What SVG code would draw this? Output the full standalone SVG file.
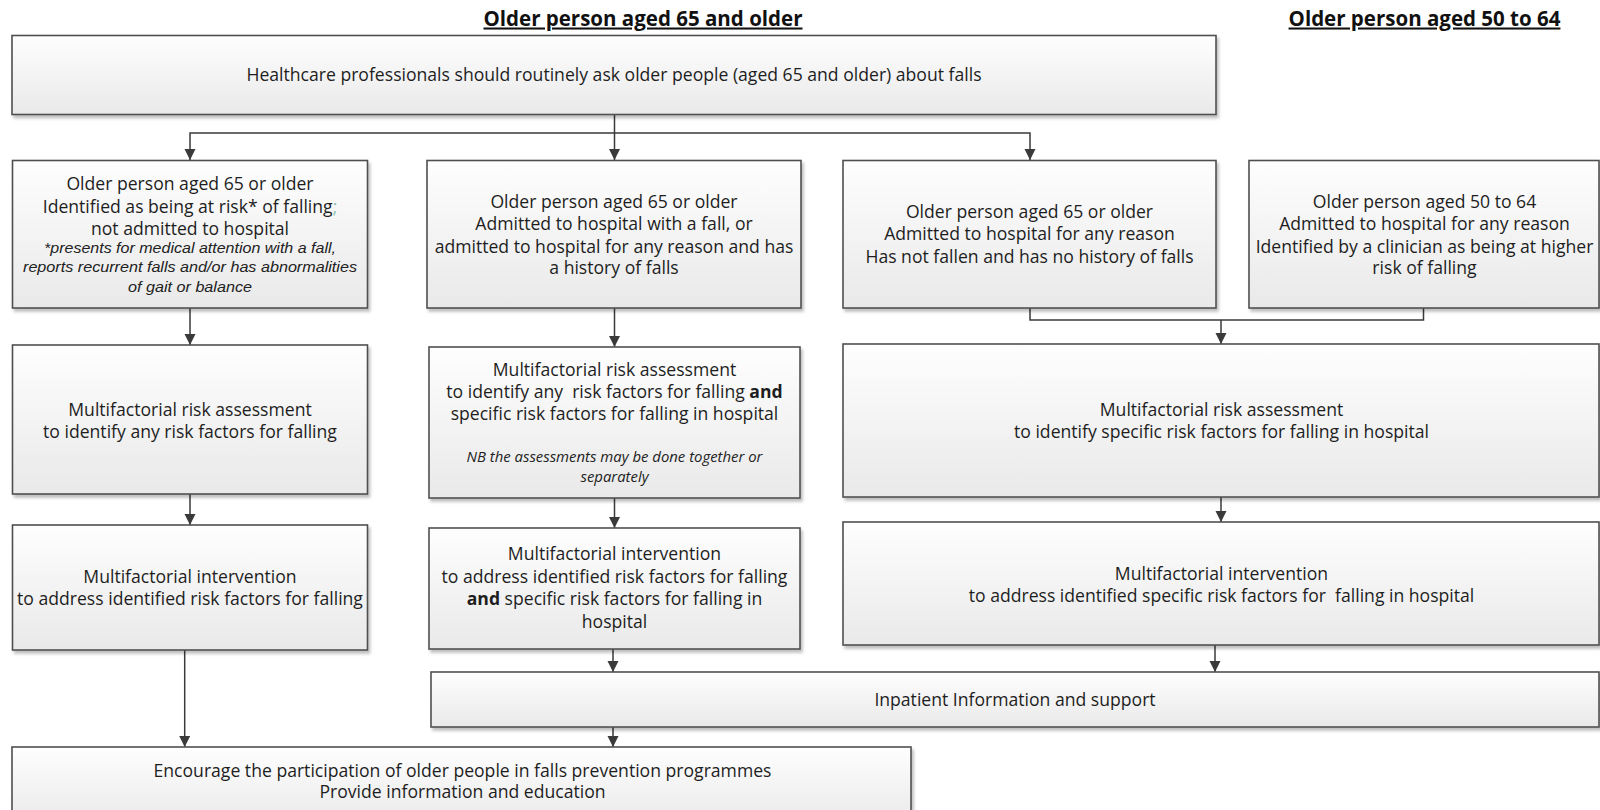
<svg xmlns="http://www.w3.org/2000/svg" width="1600" height="810" viewBox="0 0 1600 810">
<defs>
<linearGradient id="g" x1="0" y1="0" x2="0" y2="1">
<stop offset="0" stop-color="#fefefe"/>
<stop offset="1" stop-color="#e9e9e9"/>
</linearGradient>
<filter id="sh" x="-5%" y="-5%" width="110%" height="120%">
<feDropShadow dx="2" dy="3" stdDeviation="1.5" flood-color="#000" flood-opacity="0.25"/>
</filter>
<marker id="ah" markerUnits="userSpaceOnUse" markerWidth="12" markerHeight="12" refX="11" refY="6" orient="auto">
<path d="M0,0.5 L11,6 L0,11.5 z" fill="#3a3a3a"/>
</marker>
<style>
.box{fill:url(#g);stroke:#505050;stroke-width:1.6;filter:url(#sh)}
.t{font-family:"Open Sans","Liberation Sans",sans-serif;font-size:17.6px;fill:#1e1e1e;text-anchor:middle}
.h{font-family:"Open Sans","Liberation Sans",sans-serif;font-size:20.5px;font-weight:bold;fill:#111;text-anchor:middle;text-decoration:underline}
.n{font-family:"Liberation Sans",Arial,sans-serif;font-size:14px;font-style:italic;fill:#222;text-anchor:middle}
.nb{font-family:"Open Sans","Liberation Sans",sans-serif;font-size:14.5px;font-style:italic;fill:#222;text-anchor:middle}
.c{fill:none;stroke:#3a3a3a;stroke-width:1.5}
.a{marker-end:url(#ah)}
</style>
</defs>
<rect width="1600" height="810" fill="#fff"/>

<text class="h" x="643" y="25.5">Older person aged 65 and older</text>
<text class="h" x="1424.5" y="25.5">Older person aged 50 to 64</text>

<g id="connectors">
<path class="c a" d="M614.5,115 V160"/>
<path class="c a" d="M614.5,133 H190 V160"/>
<path class="c a" d="M614.5,133 H1030 V160"/>
<path class="c a" d="M190,308 V345"/>
<path class="c a" d="M614.5,308 V347"/>
<path class="c" d="M1030,308 V320 H1423.5 V308"/>
<path class="c a" d="M1221,320 V344"/>
<path class="c a" d="M190,494 V525"/>
<path class="c a" d="M614.5,498 V528"/>
<path class="c a" d="M1221,497 V522"/>
<path class="c a" d="M613,649 V672"/>
<path class="c a" d="M1215,645 V672"/>
<path class="c a" d="M184.7,650 V747"/>
<path class="c a" d="M613,727 V747"/>
</g>

<g id="ask">
<rect class="box" x="12" y="35.5" width="1204" height="79"/>
<text class="t" x="614" y="80.5">Healthcare professionals should routinely ask older people (aged 65 and older) about falls</text>
</g>

<g id="a1">
<rect class="box" x="12.5" y="160.5" width="355" height="147.5"/>
<text class="t" x="190" y="190">Older person aged 65 or older</text>
<text class="t" x="190" y="212.5">Identified as being at risk* of falling<tspan fill="#8cc0b0">;</tspan></text>
<text class="t" x="190" y="234.5">not admitted to hospital</text>
<text class="n" x="190" y="253" textLength="292" lengthAdjust="spacingAndGlyphs">*presents for medical attention with a fall,</text>
<text class="n" x="190" y="271.5" textLength="334" lengthAdjust="spacingAndGlyphs">reports recurrent falls and/or has abnormalities</text>
<text class="n" x="190" y="291.5" textLength="124" lengthAdjust="spacingAndGlyphs">of gait or balance</text>
</g>

<g id="b1">
<rect class="box" x="427" y="160.5" width="374" height="147.5"/>
<text class="t" x="614" y="207.5">Older person aged 65 or older</text>
<text class="t" x="614" y="230">Admitted to hospital with a fall, or</text>
<text class="t" x="614" y="252.5">admitted to hospital for any reason and has</text>
<text class="t" x="614" y="274">a history of falls</text>
</g>

<g id="c1">
<rect class="box" x="843" y="160.5" width="373" height="147.5"/>
<text class="t" x="1029.5" y="218">Older person aged 65 or older</text>
<text class="t" x="1029.5" y="240">Admitted to hospital for any reason</text>
<text class="t" x="1029.5" y="262.5">Has not fallen and has no history of falls</text>
</g>

<g id="d1">
<rect class="box" x="1249" y="160.5" width="350" height="147.5"/>
<text class="t" x="1424.5" y="207.5">Older person aged 50 to 64</text>
<text class="t" x="1424.5" y="230">Admitted to hospital for any reason</text>
<text class="t" x="1424.5" y="252.5">Identified by a clinician as being at higher</text>
<text class="t" x="1424.5" y="274">risk of falling</text>
</g>

<g id="a2">
<rect class="box" x="12.5" y="345" width="355" height="149"/>
<text class="t" x="190" y="416">Multifactorial risk assessment</text>
<text class="t" x="190" y="438">to identify any risk factors for falling</text>
</g>

<g id="b2">
<rect class="box" x="429" y="347" width="371" height="151"/>
<text class="t" x="614.5" y="376">Multifactorial risk assessment</text>
<text class="t" x="614.5" y="398" xml:space="preserve">to identify any  risk factors for falling <tspan font-weight="bold">and</tspan></text>
<text class="t" x="614.5" y="420">specific risk factors for falling in hospital</text>
<text class="nb" x="614.5" y="461.5" textLength="296" lengthAdjust="spacingAndGlyphs">NB the assessments may be done together or</text>
<text class="nb" x="614.5" y="481.5" textLength="68" lengthAdjust="spacingAndGlyphs">separately</text>
</g>

<g id="cd2">
<rect class="box" x="843" y="344" width="756" height="153"/>
<text class="t" x="1221.5" y="416">Multifactorial risk assessment</text>
<text class="t" x="1221.5" y="438">to identify specific risk factors for falling in hospital</text>
</g>

<g id="a3">
<rect class="box" x="12.5" y="525" width="355" height="125"/>
<text class="t" x="190" y="582.5">Multifactorial intervention</text>
<text class="t" x="190" y="604.5">to address identified risk factors for falling</text>
</g>

<g id="b3">
<rect class="box" x="429" y="528" width="371" height="121"/>
<text class="t" x="614.5" y="560">Multifactorial intervention</text>
<text class="t" x="614.5" y="582.5">to address identified risk factors for falling</text>
<text class="t" x="614.5" y="604.5"><tspan font-weight="bold">and</tspan> specific risk factors for falling in</text>
<text class="t" x="614.5" y="628">hospital</text>
</g>

<g id="cd3">
<rect class="box" x="843" y="522" width="756" height="123"/>
<text class="t" x="1221.5" y="580">Multifactorial intervention</text>
<text class="t" x="1221.5" y="601.5" xml:space="preserve">to address identified specific risk factors for  falling in hospital</text>
</g>

<g id="inpatient">
<rect class="box" x="431" y="672" width="1168" height="55"/>
<text class="t" x="1015" y="706">Inpatient Information and support</text>
</g>

<g id="encourage">
<rect class="box" x="12" y="747" width="899" height="80"/>
<text class="t" x="462.5" y="776.5">Encourage the participation of older people in falls prevention programmes</text>
<text class="t" x="462.5" y="797.5">Provide information and education</text>
</g>
</svg>
